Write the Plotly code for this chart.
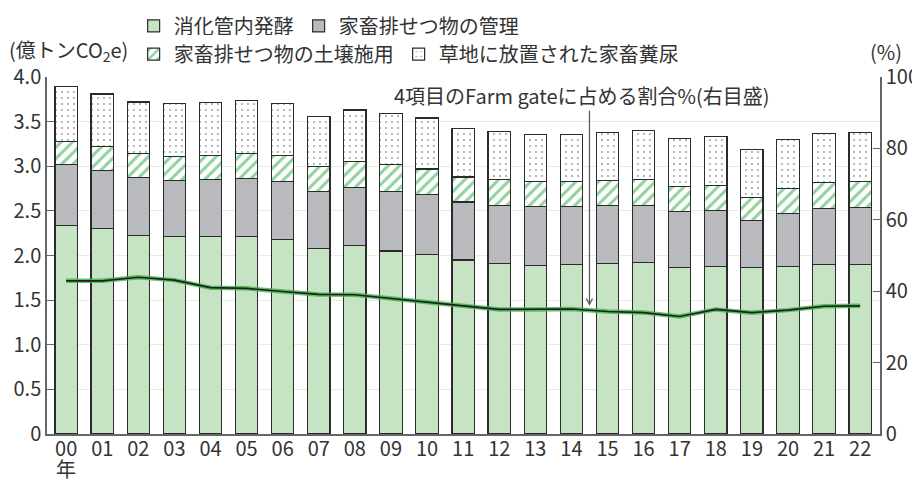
import plotly.graph_objects as go

years = ["00", "01", "02", "03", "04", "05", "06", "07", "08", "09", "10",
         "11", "12", "13", "14", "15", "16", "17", "18", "19", "20", "21", "22"]

# 億トンCO2e (stack tops, converted to segment heights below)
top_enteric = [2.34, 2.30, 2.22, 2.21, 2.21, 2.21, 2.18, 2.08, 2.11, 2.05, 2.01,
               1.95, 1.91, 1.89, 1.90, 1.91, 1.92, 1.87, 1.88, 1.87, 1.88, 1.90, 1.90]
top_manure_mgmt = [3.02, 2.95, 2.87, 2.84, 2.85, 2.86, 2.83, 2.72, 2.76, 2.72, 2.68,
                   2.60, 2.56, 2.55, 2.55, 2.56, 2.56, 2.49, 2.50, 2.39, 2.47, 2.53, 2.54]
top_manure_soil = [3.28, 3.22, 3.14, 3.11, 3.12, 3.14, 3.12, 3.00, 3.05, 3.02, 2.97,
                   2.88, 2.85, 2.83, 2.83, 2.84, 2.85, 2.77, 2.78, 2.65, 2.75, 2.82, 2.83]
top_pasture = [3.89, 3.81, 3.72, 3.70, 3.71, 3.74, 3.70, 3.56, 3.63, 3.59, 3.54,
               3.42, 3.39, 3.36, 3.36, 3.38, 3.40, 3.31, 3.33, 3.19, 3.30, 3.37, 3.38]

# share of Farm gate emissions (%), right axis
share_pct = [42.9, 42.9, 43.9, 43.1, 41.0, 40.8, 39.9, 39.1, 39.0, 37.9, 37.0,
             35.9, 34.9, 34.9, 35.0, 34.3, 34.0, 32.9, 34.9, 34.0, 34.7, 35.8, 35.9]

enteric = top_enteric
manure_mgmt = [round(b - a, 3) for a, b in zip(top_enteric, top_manure_mgmt)]
manure_soil = [round(b - a, 3) for a, b in zip(top_manure_mgmt, top_manure_soil)]
pasture = [round(b - a, 3) for a, b in zip(top_manure_soil, top_pasture)]

x = list(range(len(years)))

FONT = "Noto Sans CJK JP"
TXT = "#333333"
EDGE = dict(color="#2b2b2b", width=1.2)

fig = go.Figure()

fig.add_trace(go.Bar(
    x=x, y=enteric, name="消化管内発酵", legend="legend",
    marker=dict(color="#c6e3c3", line=EDGE),
))
fig.add_trace(go.Bar(
    x=x, y=manure_mgmt, name="家畜排せつ物の管理", legend="legend",
    marker=dict(color="#b9babe", line=EDGE),
))
fig.add_trace(go.Bar(
    x=x, y=manure_soil, name="家畜排せつ物の土壌施用", legend="legend2",
    marker=dict(color="white", line=EDGE,
                pattern=dict(shape="/", fgcolor="#1fa53a", bgcolor="white",
                             size=8, solidity=0.38)),
))
fig.add_trace(go.Bar(
    x=x, y=pasture, name="草地に放置された家畜糞尿", legend="legend2",
    marker=dict(color="white", line=EDGE,
                pattern=dict(shape=".", fgcolor="#333333", bgcolor="white",
                             size=6, solidity=0.08)),
))

# share line: green glow underneath a dark core
fig.add_trace(go.Scatter(
    x=x, y=share_pct, yaxis="y2", mode="lines", showlegend=False,
    line=dict(color="rgba(70,180,80,0.85)", width=4.5), hoverinfo="skip",
))
fig.add_trace(go.Scatter(
    x=x, y=share_pct, yaxis="y2", mode="lines", showlegend=False,
    line=dict(color="#1e1e1e", width=1.6),
))

fig.add_annotation(
    x=14.3, y=3.61, xref="x", yref="y", text="4項目のFarm gateに占める割合%(右目盛)",
    showarrow=False, xanchor="center", yanchor="bottom",
    font=dict(family=FONT, size=20, color=TXT),
)
fig.add_annotation(
    x=14.5, y=35.9, xref="x", yref="y2", ax=14.5, ay=91.0, axref="x", ayref="y2",
    text="", showarrow=True, arrowhead=5, arrowsize=1, arrowwidth=1.2,
    arrowcolor="#555555",
)
fig.add_annotation(
    x=-0.048, y=1.074, xref="paper", yref="paper", text="(億トンCO<sub>2</sub>e)",
    showarrow=False, xanchor="left", yanchor="middle",
    font=dict(family=FONT, size=20, color=TXT),
)
fig.add_annotation(
    x=0.986, y=1.072, xref="paper", yref="paper", text="(%)",
    showarrow=False, xanchor="left", yanchor="middle",
    font=dict(family=FONT, size=20, color=TXT),
)
fig.add_annotation(
    x=0, y=-0.097, xref="x", yref="paper", text="年",
    showarrow=False, xanchor="center", yanchor="middle",
    font=dict(family=FONT, size=20, color=TXT),
)

# page body has an 8px margin, so the figure is sized to sit inside the 920x482 window
fig.update_layout(
    width=912, height=474,
    margin=dict(l=39, r=40, t=69, b=48, autoexpand=False),
    plot_bgcolor="white", paper_bgcolor="white",
    barmode="stack", bargap=0.38,
    font=dict(family=FONT, size=20, color=TXT),
    legend=dict(orientation="h", x=0.104, y=1.143, xanchor="left", yanchor="middle",
                font=dict(size=20), itemclick=False, traceorder="normal"),
    legend2=dict(orientation="h", x=0.104, y=1.064, xanchor="left", yanchor="middle",
                 font=dict(size=20), itemclick=False, traceorder="normal"),
    xaxis=dict(
        range=[-0.53, 22.55], tickvals=x, ticktext=years,
        showline=True, linecolor="#666666", linewidth=1.5,
        ticks="", showgrid=False, zeroline=False, ticklabelstandoff=-4,
        tickfont=dict(size=20, color=TXT),
    ),
    yaxis=dict(
        range=[0, 4.0], tickvals=[0, 0.5, 1, 1.5, 2, 2.5, 3, 3.5, 4],
        ticktext=["0", "0.5", "1.0", "1.5", "2.0", "2.5", "3.0", "3.5", "4.0"],
        showline=True, linecolor="#666666", linewidth=1.5,
        ticks="inside", ticklen=7, tickcolor="#666666",
        showgrid=True, gridcolor="#e2efdf", gridwidth=1.2, zeroline=False,
        tickfont=dict(size=20, color=TXT),
    ),
    yaxis2=dict(
        range=[0, 100], tickvals=[0, 20, 40, 60, 80, 100], overlaying="y", side="right",
        showline=True, linecolor="#666666", linewidth=1.5,
        ticks="inside", ticklen=7, tickcolor="#666666",
        showgrid=False, zeroline=False,
        tickfont=dict(size=20, color=TXT),
    ),
)

fig.write_html("out.html")
